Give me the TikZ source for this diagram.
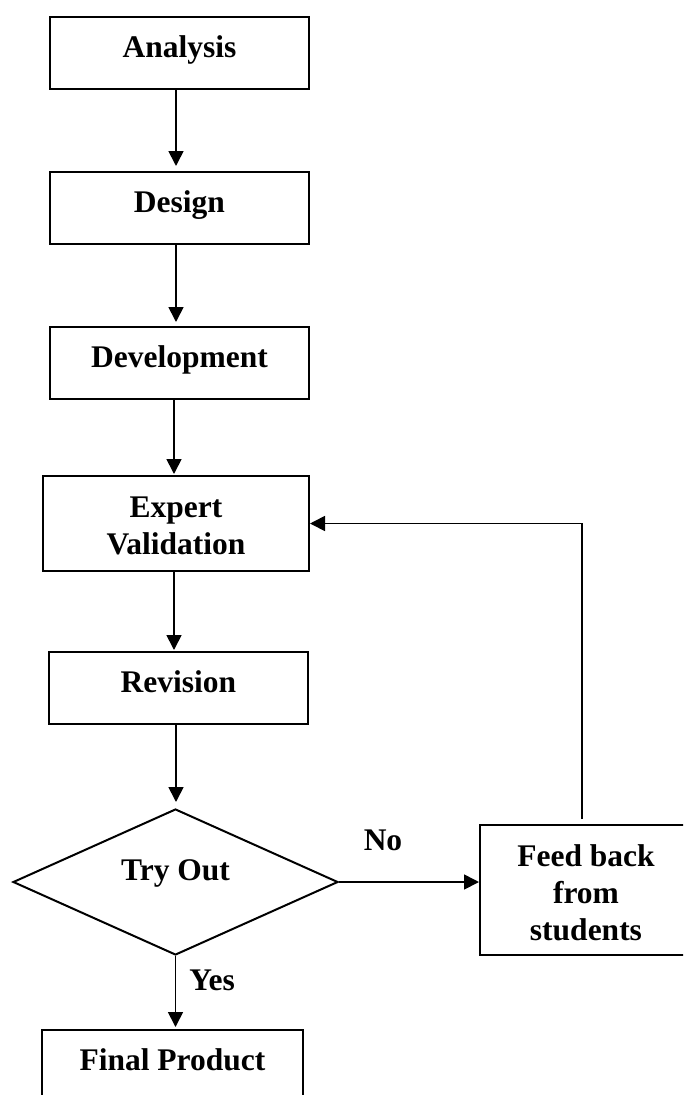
\documentclass[tikz,border=0pt]{standalone}
\usepackage{fontspec}
\setmainfont{Liberation Serif}
\usetikzlibrary{arrows.meta,shapes.geometric}
\begin{document}
\begin{tikzpicture}[x=1pt,y=-1pt,
  every node/.style={font=\bfseries\fontsize{31.5}{37}\selectfont},
  box/.style={draw, line width=2pt, rectangle, inner sep=0pt, text height=40pt, text depth=32pt, anchor=base},
  decision/.style={draw, line width=2pt, diamond, inner sep=0pt, minimum width=325pt, minimum height=146pt, text height=10pt, text depth=14pt},
  arr/.style={line width=1.7pt, -{Triangle[length=15pt,width=15pt]}},
  lbl/.style={anchor=base, inner sep=0pt}]
\useasboundingbox (0,0) rectangle (683,1095);
\clip (0,0) rectangle (683,1095);
\node[box, minimum width=259pt] (an) at (179.5,57) {Analysis};
\node[box, minimum width=259pt] (de) at (179.5,212) {Design};
\node[box, minimum width=259pt] (dv) at (179.5,367) {Development};
\node[box, minimum width=266pt, text height=41pt, text depth=54pt] (ev) at (176,517) {\begin{tabular}[t]{@{}c@{}}Expert\\Validation\end{tabular}};
\node[box, minimum width=259pt] (rv) at (178.5,692) {Revision};
\node[decision] (t) at (175.5,882) {Try Out};
\node[box, minimum width=212pt, text height=41pt, text depth=89pt] (fb) at (586,866) {\begin{tabular}[t]{@{}c@{}}Feed back\\from\\students\end{tabular}};
\node[box, minimum width=261pt] (fp) at (172.5,1070) {Final Product};
\node[lbl] (no) at (383,850) {No};
\node[lbl] (yes) at (212,990) {Yes};
\draw[arr, shorten >=5pt] ([xshift=-3.5pt]an.south) -- ([xshift=-3.5pt]de.north);
\draw[arr, shorten >=4pt] ([xshift=-3.5pt]de.south) -- ([xshift=-3.5pt]dv.north);
\draw[arr, shorten >=1pt] ([xshift=-5.5pt]dv.south) -- ([xshift=-5.5pt]dv.south |- ev.north);
\draw[arr, shorten >=1pt] ([xshift=-2pt]ev.south) -- ([xshift=-2pt]ev.south |- rv.north);
\draw[arr, shorten >=6pt] ([xshift=-2.5pt]rv.south) -- ([xshift=-2.5pt]rv.south |- t.north);
\draw[arr, shorten >=2pt] (t.south) -- (t.south |- fp.north);
\draw[arr] (t.east) -- (t.east -| fb.west);
\draw[arr, shorten <=5pt] ([xshift=-4pt]fb.north) |- (ev.east);
\end{tikzpicture}
\end{document}
